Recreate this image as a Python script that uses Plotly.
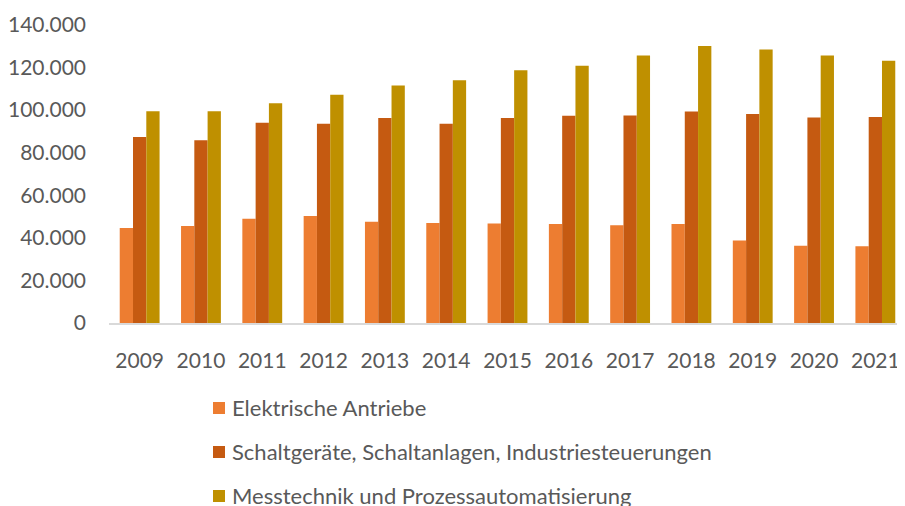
import plotly.graph_objects as go

years = ["2009", "2010", "2011", "2012", "2013", "2014", "2015", "2016", "2017", "2018", "2019", "2020", "2021"]
elektrische_antriebe = [44600, 45600, 49000, 50300, 47600, 47000, 46800, 46500, 45900, 46500, 38800, 36300, 36000]
schaltgeraete = [87400, 85800, 94100, 93600, 96300, 93600, 96300, 97400, 97500, 99400, 98200, 96600, 96800]
messtechnik = [99500, 99500, 103200, 107200, 111600, 114100, 118800, 120900, 125700, 130100, 128500, 125700, 123200]

series_names = [
    "Elektrische Antriebe",
    "Schaltgeräte, Schaltanlagen, Industriesteuerungen",
    "Messtechnik und Prozessautomatisierung",
]
colors = ["#ED7D31", "#C55A11", "#BF9000"]

FONT = "Lato"
GREY = "#595959"
W, H = 905, 506
OFF = 8  # default page body margin
# plot area in page pixels: x 109..906, y 25..323
ML = 109 - OFF
MT = 25 - OFF
MR = W - (906 - OFF)
MB = H - (323 - OFF)

fig = go.Figure()
for name, vals, col in zip(series_names, [elektrische_antriebe, schaltgeraete, messtechnik], colors):
    fig.add_trace(go.Bar(
        x=years, y=vals, name=name,
        marker=dict(color=col, line=dict(width=0)),
        showlegend=False,
    ))

# manual legend (page-pixel layout converted to paper coords)
pw, ph = W - ML - MR, H - MT - MB
def px_x(px):
    return (px - OFF - ML) / pw
def px_y(py):
    return (H - MB - (py - OFF)) / ph

shapes, annotations = [], []
for i, (name, col) in enumerate(zip(series_names, colors)):
    cy = 408 + 44 * i
    shapes.append(dict(
        type="rect", xref="paper", yref="paper",
        x0=px_x(213), x1=px_x(225), y0=px_y(cy + 6), y1=px_y(cy - 6),
        fillcolor=col, line=dict(width=0),
    ))
    annotations.append(dict(
        xref="paper", yref="paper", x=px_x(230), y=px_y(cy),
        xanchor="left", yanchor="middle", showarrow=False,
        text=name, font=dict(family=FONT, size=22, color=GREY),
    ))

fig.update_layout(
    width=W, height=H,
    margin=dict(l=ML, r=MR, t=MT, b=MB, autoexpand=False),
    paper_bgcolor="white", plot_bgcolor="white",
    barmode="group", bargap=0.35, bargroupgap=0,
    separators=",.",
    font=dict(family=FONT, size=21, color=GREY),
    showlegend=False,
    shapes=shapes, annotations=annotations,
    xaxis=dict(
        showgrid=False, showline=True, linecolor="#D9D9D9", linewidth=1.5,
        ticks="", ticklabelstandoff=18, tickangle=0,
        tickfont=dict(family=FONT, size=21, color=GREY),
    ),
    yaxis=dict(
        range=[0, 140000], tickvals=[0, 20000, 40000, 60000, 80000, 100000, 120000, 140000],
        tickformat=",d", showgrid=False, zeroline=False, showline=False,
        ticks="", ticklabelstandoff=22,
        tickfont=dict(family=FONT, size=21, color=GREY),
    ),
)

fig.write_html("out.html")
